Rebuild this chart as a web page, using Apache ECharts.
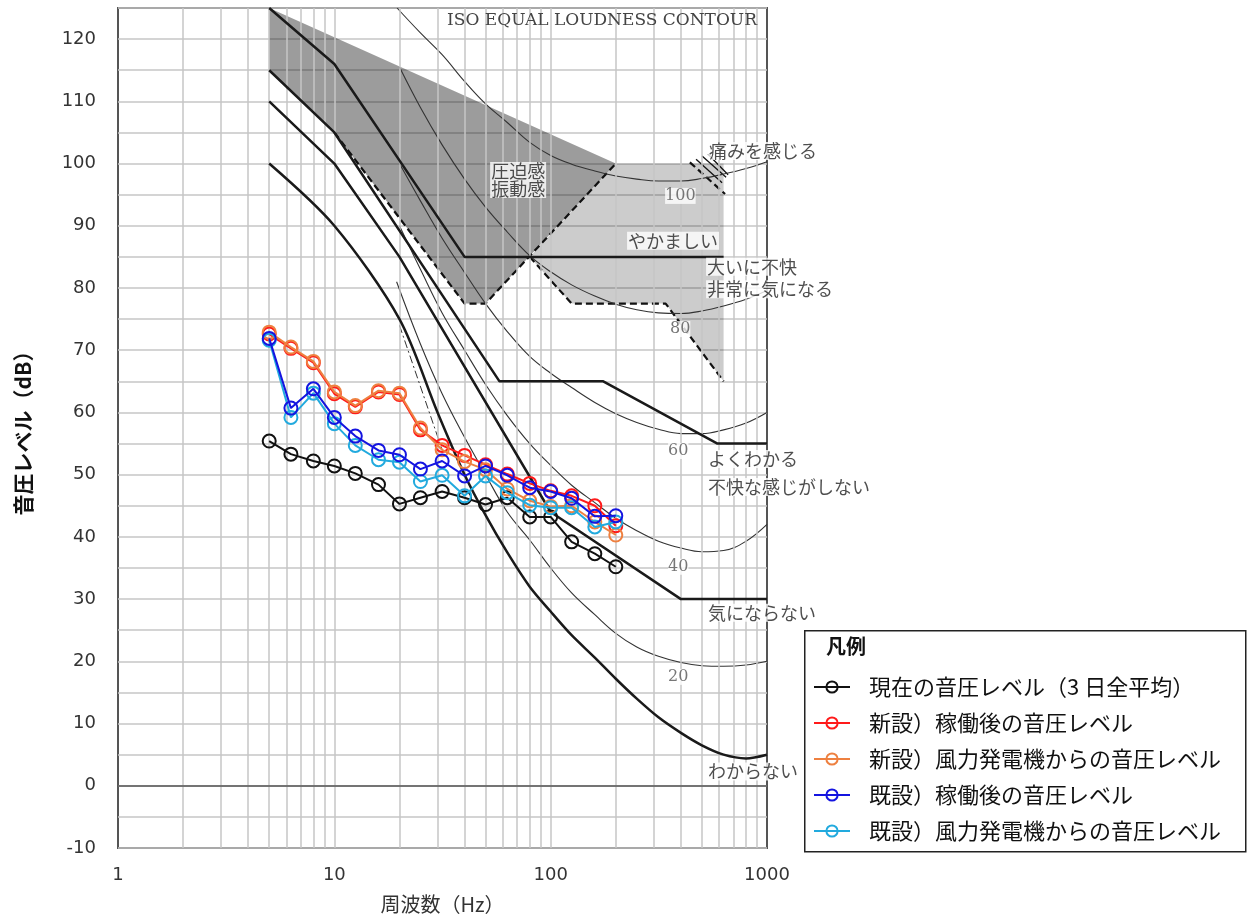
<!DOCTYPE html>
<html>
<head>
<meta charset="utf-8">
<script src="https://cdn.jsdelivr.net/npm/echarts@6/dist/echarts.min.js"></script>
<style>
  html, body { margin: 0; padding: 0; background: #fff; }
  #chart { width: 1247px; height: 919px; }
</style>
</head>
<body>
<div id="chart"></div>
<script>
// 1/3 octave band centre frequencies (Hz)
const freqs = [5, 6.3, 8, 10, 12.5, 16, 20, 25, 31.5, 40, 50, 63, 80, 100, 125, 160, 200]

// measured / predicted levels (dB)
const current        = [55.4, 53.3, 52.2, 51.4, 50.2, 48.4, 45.3, 46.3, 47.3, 46.3, 45.2, 46.3, 43.2, 43.2, 39.2, 37.3, 35.2]
const newOperating   = [72.6, 70.3, 68.0, 63.0, 60.9, 63.3, 62.9, 57.2, 54.7, 53.1, 51.6, 50.1, 48.6, 47.4, 46.6, 45.0, 41.8]
const newTurbine     = [72.9, 70.5, 68.2, 63.3, 61.1, 63.5, 63.1, 57.5, 54.0, 52.1, 50.8, 47.7, 45.8, 44.9, 45.0, 42.4, 40.3]
const existOperating = [71.9, 60.7, 63.8, 59.2, 56.2, 53.9, 53.2, 50.9, 52.2, 49.8, 51.4, 49.9, 47.9, 47.3, 46.2, 43.3, 43.4]
const existTurbine   = [71.6, 59.2, 63.1, 58.2, 54.7, 52.4, 52.0, 48.9, 49.9, 46.6, 49.8, 47.1, 45.1, 44.7, 44.7, 41.6, 42.4]

const seriesNames = [
  '現在の音圧レベル（3 日全平均）',
  '新設）稼働後の音圧レベル',
  '新設）風力発電機からの音圧レベル',
  '既設）稼働後の音圧レベル',
  '既設）風力発電機からの音圧レベル'
]

// evaluation lines (thick) [Hz, dB]
const lineYakamashii = [[5, 125], [10, 116], [40, 85], [630, 85]]
const lineYokuWakaru = [[5, 115], [10, 105], [58, 65], [175, 65], [590, 55], [1000, 55]]
const lineKiniNaranai = [[5, 110], [10, 100], [20, 85], [100, 44], [400, 30], [1000, 30]]
const lineWakaranai = [[5, 100], [10, 90], [20, 75], [30, 60], [40, 50], [50, 43.5], [63, 37.5], [80, 32], [100, 28],
  [125, 24.2], [160, 20.6], [200, 17.2], [250, 14], [315, 11], [400, 8.5], [500, 6.5], [630, 5], [800, 4.4], [1000, 5]]

// ISO equal loudness contours (thin) [Hz, dB]
const contour100 = [[19.5, 125], [25, 121], [31.5, 117.5], [40, 113.2], [50, 109.6], [63, 106.6], [80, 103.4], [100, 101.3],
  [125, 99.9], [160, 98.8], [200, 98], [250, 97.5], [315, 97.2], [400, 97.2], [500, 97.6], [630, 98.3], [800, 99.2], [1000, 100.3]]
const contour80 = [[20, 115.5], [25, 109], [31.5, 103], [40, 97.5], [50, 93], [63, 89], [80, 85.2], [100, 82.6], [125, 80.5],
  [160, 78.7], [200, 77.4], [250, 76.5], [315, 76], [400, 75.9], [500, 76.3], [630, 77.1], [800, 78.2], [1000, 79.6]]
const contour60 = [[20, 100], [25, 94], [31.5, 88], [40, 82.5], [50, 77.5], [63, 73], [80, 69], [100, 66.3], [125, 64],
  [160, 61.6], [200, 59.8], [250, 58.4], [315, 57.3], [400, 56.6], [500, 56.6], [630, 57.2], [800, 58.3], [1000, 60]]
const contour40 = [[20, 90], [25, 83], [31.5, 76], [40, 70], [50, 64.5], [63, 59.5], [80, 55], [100, 51.5], [125, 48.3],
  [160, 45.5], [200, 43], [250, 41], [315, 39.3], [400, 38.2], [500, 37.6], [630, 37.8], [800, 39.3], [1000, 42]]
const contour20 = [[19.4, 81], [25, 71], [31.5, 63], [40, 56], [50, 50], [63, 44], [80, 39.5], [100, 35], [125, 31],
  [160, 27.5], [200, 24.5], [250, 22.3], [315, 20.8], [400, 19.8], [500, 19.3], [630, 19.2], [800, 19.4], [1000, 20]]
const dashDot = [[20, 74], [31.5, 54]]

// shaded areas and their dashed borders [Hz, dB]
const regionPressure = [[5, 125], [200, 100], [50, 77.5], [40, 77.5], [10, 105], [5, 115]]
const regionAnnoying = [[80, 85], [125, 77.5], [340, 77.5], [630, 65], [630, 100], [200, 100]]
const dashPressure = [[10, 105], [40, 77.5], [50, 77.5], [200, 100]]
const dashAnnoying = [[80, 85], [125, 77.5], [340, 77.5], [630, 65]]
const dashPain = [[440, 100.2], [640, 95.1]]
const hatchPain = [
  [[470, 100.7], [620, 96.9]],
  [[501, 101.2], [647, 97.8]],
  [[534, 101.5], [661, 98.2]]
]

// text annotations: [label, Hz, dB]
const notes = [
  ['圧迫感', 52.5, 98.8], ['振動感', 52.5, 95.9],
  ['痛みを感じる', 534, 102], ['やかましい', 225.5, 87.6],
  ['大いに不快', 523, 83.4], ['非常に気になる', 523, 79.8],
  ['よくわかる', 528.6, 52.5], ['不快な感じがしない', 528.6, 48],
  ['気にならない', 528.6, 27.8], ['わからない', 528.6, 2.3]
]
const phonLabels = [['100', 338, 94.8], ['80', 356, 73.4], ['60', 349, 53.8], ['40', 349, 35.2], ['20', 349, 17.5]]

const colors = ['#111111', '#ff1a1a', '#ee8040', '#1414e0', '#22aade']
const FONT = 'Noto Sans CJK JP'

// vertical grid at every integer multiple of each decade
const gridFreqs = []
for (let d = 1; d < 1000; d *= 10) {
  for (let k = 2; k <= 9; k++) gridFreqs.push(k * d)
}
gridFreqs.push(10, 100)

const chart = echarts.init(document.getElementById('chart'))

function bgLine (data, lineStyle, opts) {
  return Object.assign({
    type: 'line',
    data: data,
    symbol: 'none',
    showSymbol: false,
    silent: true,
    animation: false,
    z: 4,
    lineStyle: Object.assign({ color: '#1a1a1a', width: 2.5, type: 'solid' }, lineStyle)
  }, opts || {})
}

const series = []

// grid lines + zero line
series.push({
  type: 'line',
  data: [],
  silent: true,
  z: 1,
  markLine: {
    silent: true,
    symbol: 'none',
    animation: false,
    label: { show: false },
    data: gridFreqs.map(f => ({ xAxis: f, lineStyle: { color: '#c6c6c6', width: 1.5, type: 'solid' } }))
      .concat([{ yAxis: 0, lineStyle: { color: '#555', width: 1.5, type: 'solid' } }])
  }
})

// shaded regions
const regions = [regionAnnoying, regionPressure]
const regionFills = ['rgba(0,0,0,0.2)', 'rgba(0,0,0,0.39)']
series.push({
  type: 'custom',
  silent: true,
  animation: false,
  z: 2,
  data: regions.map(r => r[0]),
  renderItem: (params, api) => ({
    type: 'polygon',
    shape: { points: regions[params.dataIndex].map(p => api.coord(p)) },
    style: { fill: regionFills[params.dataIndex], stroke: null }
  })
})

// dashed borders and pain hatch (drawn first so solid lines sit on top)
;[dashPressure, dashAnnoying, dashPain].forEach(l => {
  series.push(bgLine(l, { color: '#111', width: 2.2, type: [7, 4] }, { z: 3 }))
})
hatchPain.forEach(h => series.push(bgLine(h, { color: '#111', width: 1.3 }, { z: 3 })))

// contours
;[contour100, contour80, contour60, contour40, contour20].forEach(c => {
  series.push(bgLine(c, { color: '#333', width: 1.1 }, { smooth: 0.4 }))
})
series.push(bgLine(dashDot, { color: '#333', width: 1, type: [8, 3, 2, 3] }, { z: 3 }))

// thick evaluation lines
;[lineYakamashii, lineYokuWakaru, lineKiniNaranai].forEach(l => series.push(bgLine(l, {}, { z: 5 })))
series.push(bgLine(lineWakaranai, {}, { z: 5, smooth: 0.3 }))

// annotations
series.push({
  type: 'scatter',
  silent: true,
  animation: false,
  symbolSize: 0,
  z: 6,
  data: notes.map(n => ({ name: n[0], value: [n[1], n[2]] })),
  label: {
    show: true,
    position: 'right',
    distance: 0,
    formatter: '{b}',
    fontFamily: FONT,
    fontSize: 18,
    color: '#222',
    backgroundColor: '#fff',
    padding: [0, 1]
  }
})
series.push({
  type: 'scatter',
  silent: true,
  animation: false,
  symbolSize: 0,
  z: 6,
  data: phonLabels.map(n => ({ name: n[0], value: [n[1], n[2]] })),
  label: {
    show: true,
    position: 'right',
    distance: 0,
    formatter: '{b}',
    fontFamily: 'DejaVu Serif',
    fontSize: 16,
    color: '#555',
    backgroundColor: '#fff'
  }
})

// measured series
const dataSets = [current, newOperating, newTurbine, existOperating, existTurbine]
const zOrder = [10, 11, 12, 14, 13]
dataSets.forEach((vals, i) => {
  series.push({
    name: seriesNames[i],
    type: 'line',
    data: freqs.map((f, j) => [f, vals[j]]),
    symbol: 'circle',
    symbolSize: 13,
    z: zOrder[i],
    animation: false,
    lineStyle: { color: colors[i], width: 2 },
    itemStyle: { color: 'rgba(255,255,255,0)', borderColor: colors[i], borderWidth: 2 }
  })
})

const options = {
  backgroundColor: '#fff',
  textStyle: { fontFamily: FONT },
  grid: {
    left: 118, right: 480, top: 8, bottom: 70,
    show: true, borderColor: '#555', borderWidth: 2, backgroundColor: 'transparent'
  },
  legend: {
    data: seriesNames,
    orient: 'vertical',
    left: 808,
    top: 670,
    itemWidth: 36,
    itemHeight: 14,
    itemGap: 12,
    textStyle: { fontSize: 22, color: '#111', lineHeight: 24, fontFamily: FONT, padding: [0, 0, 0, 14] }
  },
  graphic: [
    {
      type: 'rect',
      left: 804, top: 630, z: 0,
      shape: { width: 441, height: 221 },
      style: { fill: '#fff', stroke: '#222', lineWidth: 1.5 }
    },
    {
      type: 'text',
      left: 826, top: 636, z: 1,
      style: { text: '凡例', font: 'bold 20px "Noto Sans CJK JP"', fill: '#111' }
    },
    {
      type: 'text',
      right: 490, top: 12, z: 10,
      style: { text: 'ISO EQUAL LOUDNESS CONTOUR', font: '17px "DejaVu Serif"', fill: '#444' }
    }
  ],
  xAxis: {
    type: 'log',
    logBase: 10,
    min: 1,
    max: 1000,
    name: '周波数（Hz）',
    nameLocation: 'middle',
    nameGap: 46,
    nameTextStyle: { fontSize: 20, color: '#333', fontFamily: FONT },
    axisLine: { show: false },
    axisTick: { show: false },
    splitLine: { show: false },
    axisLabel: { fontSize: 18, color: '#333', margin: 18, fontFamily: 'DejaVu Sans', formatter: v => String(v) }
  },
  yAxis: {
    type: 'value',
    min: -10,
    max: 125,
    interval: 5,
    name: '音圧レベル（dB）',
    nameLocation: 'middle',
    nameRotate: 90,
    nameGap: 84,
    nameTextStyle: { fontSize: 21, color: '#111', fontWeight: 'bold', fontFamily: FONT },
    axisLine: { show: false },
    axisTick: { show: false },
    splitLine: { lineStyle: { color: '#c6c6c6', width: 1.5 } },
    axisLabel: {
      fontSize: 18, color: '#333', margin: 22, fontFamily: 'DejaVu Sans',
      formatter: v => (v % 10 === 0 && v <= 120) ? String(v) : ''
    }
  },
  series: series
}

chart.setOption(options)
</script>
</body>
</html>
